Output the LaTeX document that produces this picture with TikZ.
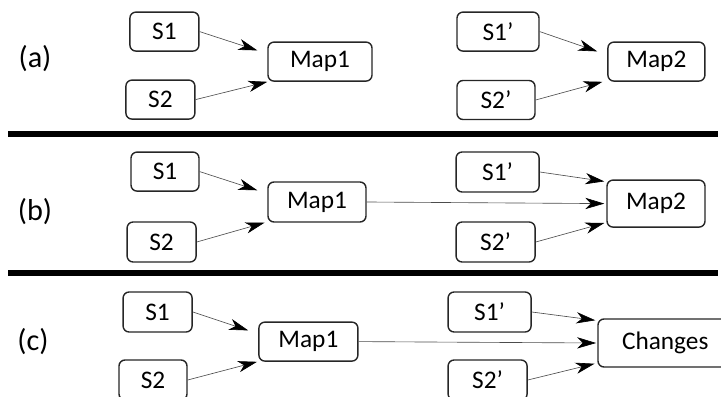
\documentclass[tikz,border=0pt]{standalone}
\usepackage{fontspec}
\setmainfont{Carlito}
\usetikzlibrary{arrows.meta, positioning}

\begin{document}
\begin{tikzpicture}[
    box/.style={rectangle, draw=black!85, line width=1pt, rounded corners=0.15cm, fill=white, minimum height=0.975cm, inner sep=0pt, font=\fontsize{18}{21}\selectfont},
    panel/.style={font=\fontsize{21.5}{25}\selectfont},
    relation/.style={-{Stealth[length=13.5pt, width=8pt, inset=4pt, color=black]}, draw=black!70, line width=0.45pt},
    separator/.style={line width=3.6pt, draw=black}
]
\useasboundingbox (0,0) rectangle (18.025,9.9);
\clip (0,0) rectangle (18.025,9.9);

% Panel (a)
\node[panel] (la) at (0.875,8.425) {(a)};
\node[box, minimum width=1.725cm] (s1a) at (4.11,9.11) {S1};
\node[box, minimum width=1.725cm] (s2a) at (4.01,7.41) {S2};
\node[box, minimum width=2.6cm] (map1a) at (8.0,8.36) {Map1};
\node[box, minimum width=2.05cm] (s1pa) at (12.45,9.11) {S1’};
\node[box, minimum width=1.95cm] (s2pa) at (12.4,7.4) {S2’};
\node[box, minimum width=2.425cm] (map2a) at (16.41,8.36) {Map2};

\draw[relation] (s1a.east) -- ([xshift=-0.25cm, yshift=-0.225cm]map1a.north west);
\draw[relation] (s2a.east) -- (map1a.south west);
\draw[relation] (s1pa.east) -- ([xshift=-0.25cm, yshift=-0.25cm]map2a.north west);
\draw[relation] (s2pa.east) -- ([xshift=-0.12cm]map2a.south west);

\coordinate (sepl1) at (0.2,6.55);
\coordinate (sepr1) at (17.95,6.55);
\draw[separator] (sepl1) -- (sepr1);

% Panel (b)
\node[panel] (lb) at (0.875,4.6) {(b)};
\node[box, minimum width=1.7cm] (s1b) at (4.125,5.61) {S1};
\node[box, minimum width=1.725cm, minimum height=1cm] (s2b) at (4.04,3.85) {S2};
\node[box, minimum width=2.45cm, minimum height=1cm] (map1b) at (7.925,4.85) {Map1};
\node[box, minimum width=2.075cm, minimum height=1cm] (s1pb) at (12.44,5.6) {S1’};
\node[box, minimum width=1.975cm, minimum height=1cm] (s2pb) at (12.39,3.85) {S2’};
\node[box, minimum width=2.45cm, minimum height=1.175cm] (map2b) at (16.4,4.81) {Map2};

\draw[relation] (s1b.east) -- ([xshift=-0.25cm, yshift=-0.225cm]map1b.north west);
\draw[relation] (s2b.east) -- ([xshift=-0.07cm]map1b.south west);
\draw[relation] (map1b.east) -- ([xshift=-0.05cm]map2b.west);
\draw[relation] (s1pb.east) -- ([xshift=-0.05cm, yshift=-0.05cm]map2b.north west);
\draw[relation] (s2pb.east) -- ([xshift=-0.05cm, yshift=0.12cm]map2b.south west);

\coordinate (sepl2) at (0.2,3.075);
\coordinate (sepr2) at (17.95,3.075);
\draw[separator] (sepl2) -- (sepr2);

% Panel (c)
\node[panel] (lc) at (0.825,1.35) {(c)};
\node[box, minimum width=1.725cm, minimum height=1cm] (s1c) at (3.94,2.1) {S1};
\node[box, minimum width=1.7cm, minimum height=1cm] (s2c) at (3.825,0.4) {S2};
\node[box, minimum width=2.475cm] (map1c) at (7.71,1.36) {Map1};
\node[box, minimum width=2.075cm, minimum height=1cm] (s1pc) at (12.24,2.1) {S1’};
\node[box, minimum width=1.975cm, minimum height=1cm] (s2pc) at (12.19,0.4) {S2’};
\node[box, minimum height=1.2cm, text width=2.65cm, align=left, inner xsep=0.6cm] (changes) at (16.875,1.325) {Changes};

\draw[relation] (s1c.east) -- ([xshift=-0.25cm, yshift=-0.225cm]map1c.north west);
\draw[relation] (s2c.east) -- ([xshift=-0.03cm]map1c.south west);
\draw[relation] (map1c.east) -- ([xshift=-0.03cm]changes.west);
\draw[relation] (s1pc.east) -- ([xshift=-0.05cm, yshift=-0.05cm]changes.north west);
\draw[relation] (s2pc.east) -- ([xshift=-0.07cm, yshift=0.1cm]changes.south west);

\end{tikzpicture}
\end{document}
